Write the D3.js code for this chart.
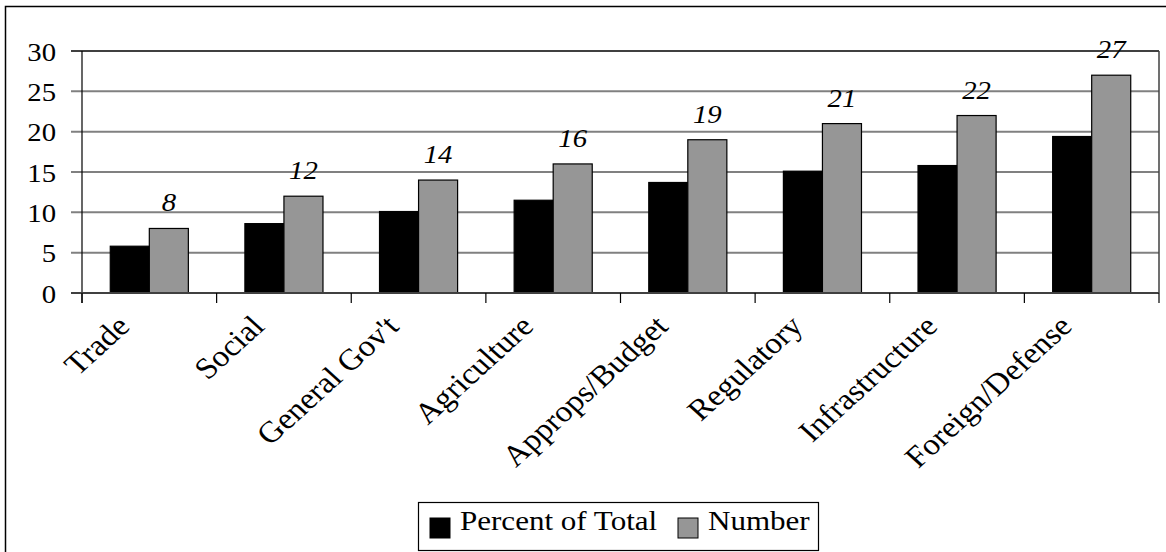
<!DOCTYPE html>
<html>
<head>
<meta charset="utf-8">
<script src="https://cdn.jsdelivr.net/npm/d3@7"></script>
<style>
  body { margin: 0; background: #fff; }
  svg text { font-family: "Liberation Serif", "Times New Roman", serif; fill: #000; }
</style>
</head>
<body>
<div id="chart"></div>
<script>
// data
var categories = ["Trade", "Social", "General Gov't", "Agriculture", "Approps/Budget", "Regulatory", "Infrastructure", "Foreign/Defense"];
var percentValues = [5.8, 8.6, 10.1, 11.5, 13.7, 15.1, 15.8, 19.4];
var numberValues = [8, 12, 14, 16, 19, 21, 22, 27];
var seriesNames = ["Percent of Total", "Number"];
var yTicks = [0, 5, 10, 15, 20, 25, 30];

var W = 1166, H = 552;
var margin = {top: 51, right: 7, bottom: 259, left: 82},
    width = W - margin.left - margin.right,
    height = H - margin.top - margin.bottom;
var colors = ["#000000", "#969696"];
var serif = "'Liberation Serif', 'Times New Roman', serif";
var sx = 1.15; // the original text is a bit wide

var svg = d3.select("#chart").append("svg")
    .attr("width", W)
    .attr("height", H);

// outer frame (right and bottom edges run off the picture)
svg.append("rect")
    .attr("x", 5.5).attr("y", 6.5)
    .attr("width", W).attr("height", H)
    .attr("fill", "none")
    .attr("stroke", "#000")
    .attr("stroke-width", 1.5);

var g = svg.append("g")
    .attr("transform", "translate(" + margin.left + "," + margin.top + ")");

var x0 = d3.scaleBand().domain(categories).range([0, width]).padding(0);
var x1 = d3.scaleBand().domain(seriesNames).range([0, x0.bandwidth()]).paddingInner(0).paddingOuter(0.724);
var y = d3.scaleLinear().domain([0, 30]).range([height, 0]);

// gridlines
g.selectAll(".grid")
    .data(yTicks.filter(d => d > 0 && d < 30))
    .enter().append("line")
    .attr("class", "grid")
    .attr("x1", -11).attr("x2", width)
    .attr("y1", d => y(d)).attr("y2", d => y(d))
    .attr("stroke", "#808080")
    .attr("stroke-width", 2);

// plot border top/right
g.append("line")
    .attr("x1", -11).attr("x2", width)
    .attr("y1", 0).attr("y2", 0)
    .attr("stroke", "#404040").attr("stroke-width", 2);
g.append("line")
    .attr("x1", width).attr("x2", width)
    .attr("y1", 0).attr("y2", height)
    .attr("stroke", "#404040").attr("stroke-width", 1.5);

// bars
var rows = categories.map((c, i) => ({cat: c, vals: [percentValues[i], numberValues[i]]}));
var groups = g.selectAll(".group")
    .data(rows)
    .enter().append("g")
    .attr("class", "group")
    .attr("transform", d => "translate(" + x0(d.cat) + ",0)");

groups.selectAll("rect")
    .data(d => d.vals.map((v, j) => ({name: seriesNames[j], value: v, j: j})))
    .enter().append("rect")
    .attr("x", d => x1(d.name))
    .attr("y", d => y(d.value))
    .attr("width", x1.bandwidth())
    .attr("height", d => height - y(d.value))
    .attr("fill", d => colors[d.j])
    .attr("stroke", "#000")
    .attr("stroke-width", 1.2);

// value labels on Number bars
groups.append("text")
    .attr("transform", d => "translate(" + (x1("Number") + x1.bandwidth() / 2) + "," + (y(d.vals[1]) - 17) + ") scale(" + sx + ",1)")
    .attr("text-anchor", "middle")
    .style("font-family", serif)
    .style("font-size", "25px")
    .style("font-style", "italic")
    .text(d => d.vals[1]);

// y axis
var yAxis = g.append("g")
    .call(d3.axisLeft(y).tickValues(yTicks).tickSize(0).tickPadding(0));
yAxis.select(".domain").remove();
yAxis.selectAll("text").remove();
yAxis.selectAll(".tick").append("text")
    .attr("transform", "translate(-26,9) scale(" + sx + ",1)")
    .attr("text-anchor", "end")
    .style("font-family", serif)
    .style("font-size", "25px")
    .text(d => d);
g.append("line")
    .attr("x1", 0).attr("x2", 0)
    .attr("y1", 0).attr("y2", height + 10)
    .attr("stroke", "#000").attr("stroke-width", 1.2);

// x axis
g.append("line")
    .attr("x1", -11).attr("x2", width)
    .attr("y1", height).attr("y2", height)
    .attr("stroke", "#404040").attr("stroke-width", 2);
var bounds = categories.map(c => x0(c)).concat([width]);
g.selectAll(".xtick")
    .data(bounds)
    .enter().append("line")
    .attr("class", "xtick")
    .attr("x1", d => d).attr("x2", d => d)
    .attr("y1", height).attr("y2", height + 10)
    .attr("stroke", "#000").attr("stroke-width", 1.2);

// category labels, clipped at the top like the original
svg.append("clipPath").attr("id", "labclip")
    .append("rect")
    .attr("x", -margin.left).attr("y", height + 20)
    .attr("width", W).attr("height", 300);

g.append("g")
    .attr("clip-path", "url(#labclip)")
    .selectAll(".xlabel")
    .data(categories)
    .enter().append("text")
    .attr("class", "xlabel")
    .attr("transform", d => "translate(" + (x0(d) + x0.bandwidth() / 2 - 18) + "," + (height + 35) + ") scale(1.1,1) rotate(-45)")
    .attr("text-anchor", "end")
    .style("font-family", serif)
    .style("font-size", "30px")
    .text(d => d);

// legend
var legend = svg.append("g").attr("transform", "translate(418,502)");
legend.append("rect")
    .attr("x", 0.5).attr("y", 0.5)
    .attr("width", 400).attr("height", 48)
    .attr("fill", "#fff")
    .attr("stroke", "#000").attr("stroke-width", 1.2);
var legendX = [12, 260];
seriesNames.forEach(function(name, i) {
    legend.append("rect")
        .attr("x", legendX[i]).attr("y", 16)
        .attr("width", 20).attr("height", 20)
        .attr("fill", colors[i])
        .attr("stroke", "#000").attr("stroke-width", 1);
    legend.append("text")
        .attr("transform", "translate(" + (legendX[i] + 30) + ",28) scale(1.15,1)")
        .style("font-family", serif)
        .style("font-size", "27px")
        .text(name);
});
</script>
</body>
</html>
